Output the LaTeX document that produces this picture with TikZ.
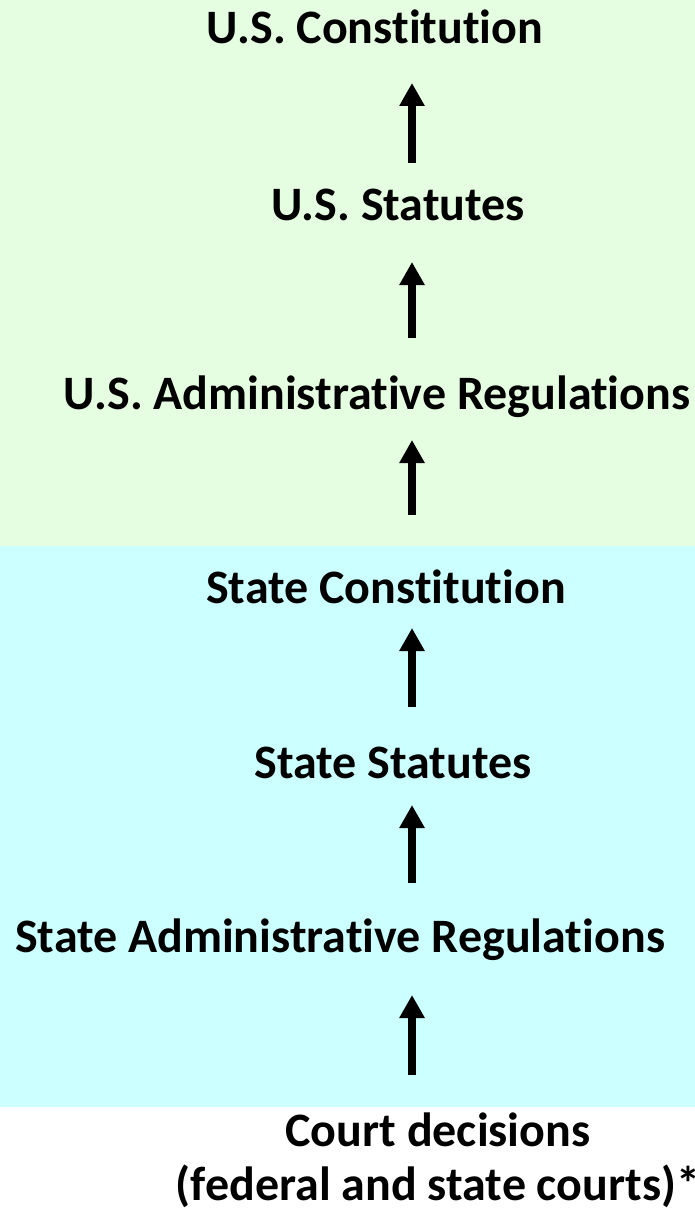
\documentclass[tikz,border=0pt]{standalone}
\usepackage{fontspec}
\setmainfont{Carlito}[Ligatures=CommonOff]
\usetikzlibrary{arrows.meta}
\definecolor{fedgreen}{RGB}{229,253,224}
\definecolor{statecyan}{RGB}{204,255,255}

\begin{document}
\begin{tikzpicture}[x=1pt,y=-1pt,
    level/.style={font=\fontsize{48}{54}\selectfont\bfseries, inner sep=0pt, align=center},
    uparrow/.style={line width=8pt, -{Triangle[width=24pt,length=23pt]}}]
    \useasboundingbox (0,0) rectangle (695,1209);
    \fill[fedgreen] (0,0) rectangle (695,546); % federal band
    \fill[statecyan] (0,546) rectangle (695,1107); % state band
    \node[level] (usconst) at (375,27) {U.S. Constitution};
    \node[level] (usstat) at (398,205) {U.S. Statutes};
    \node[level] (usreg) at (377,397) {U.S. Administrative Regulations};
    \node[level] (stconst) at (386,587) {State Constitution};
    \node[level] (ststat) at (393,763) {State Statutes};
    \node[level] (streg) at (340,940) {State Administrative Regulations};
    \node[level] (court) at (438,1160) {Court decisions\\(federal and state courts)*};
    % arrow ends
    \foreach \name/\bot/\tip in {a/163/83, b/338/262, c/515/440, d/707/628, e/883/805, f/1075/995} {
      \coordinate (\name-from) at (412,\bot);
      \coordinate (\name-to) at (412,\tip);
    }
    \foreach \name in {a,b,c,d,e,f}
      \draw[uparrow] (\name-from) -- (\name-to);
\end{tikzpicture}
\end{document}
